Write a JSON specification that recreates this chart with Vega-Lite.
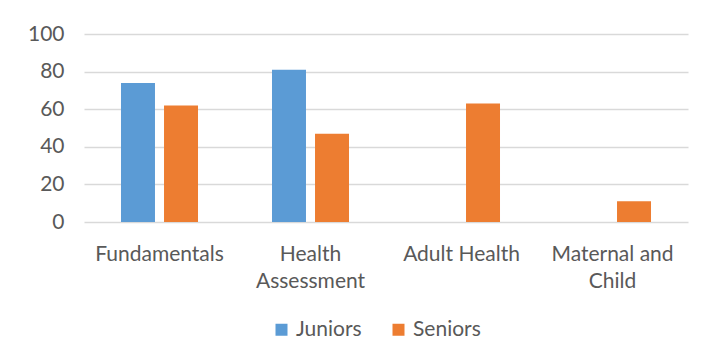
{
  "$schema": "https://vega.github.io/schema/vega-lite/v6.json",
  "autosize": "none",
  "width": 604,
  "height": 188,
  "padding": {"left": 84, "top": 34, "right": 29, "bottom": 140},
  "background": "white",
  "data": {
    "values": [
      {"course": "Fundamentals", "group": "Juniors", "value": 74},
      {"course": "Fundamentals", "group": "Seniors", "value": 62},
      {"course": "Health Assessment", "group": "Juniors", "value": 81},
      {"course": "Health Assessment", "group": "Seniors", "value": 47},
      {"course": "Adult Health", "group": "Juniors", "value": 0},
      {"course": "Adult Health", "group": "Seniors", "value": 63},
      {"course": "Maternal and Child", "group": "Juniors", "value": 0},
      {"course": "Maternal and Child", "group": "Seniors", "value": 11}
    ]
  },
  "config": {
    "view": {"stroke": null},
    "font": "Lato",
    "axis": {"labelFont": "Lato", "labelFontSize": 21, "labelColor": "#595959"},
    "legend": {"labelFont": "Lato", "labelFontSize": 21, "labelColor": "#595959"}
  },
  "mark": {"type": "bar"},
  "encoding": {
    "x": {
      "field": "course",
      "type": "nominal",
      "sort": ["Fundamentals", "Health Assessment", "Adult Health", "Maternal and Child"],
      "scale": {"paddingInner": 0.49, "paddingOuter": 0.245},
      "axis": {
        "title": null,
        "labelAngle": 0,
        "domain": false,
        "ticks": false,
        "labelPadding": 21,
        "labelLineHeight": 27,
        "labelExpr": "datum.label == 'Health Assessment' ? ['Health', 'Assessment'] : datum.label == 'Maternal and Child' ? ['Maternal and', 'Child'] : datum.label"
      }
    },
    "xOffset": {
      "field": "group",
      "type": "nominal",
      "scale": {"paddingInner": 0.21, "paddingOuter": 0}
    },
    "y": {
      "field": "value",
      "type": "quantitative",
      "scale": {"domain": [0, 100], "nice": false},
      "axis": {
        "title": null,
        "values": [0, 20, 40, 60, 80, 100],
        "domain": false,
        "ticks": false,
        "labelPadding": 20,
        "gridColor": "#d9d9d9",
        "gridWidth": 1.5
      }
    },
    "color": {
      "field": "group",
      "type": "nominal",
      "scale": {"domain": ["Juniors", "Seniors"], "range": ["#5B9BD5", "#ED7D31"]},
      "legend": {
        "title": null,
        "orient": "none",
        "direction": "horizontal",
        "legendX": 187,
        "legendY": 285,
        "symbolType": "square",
        "symbolSize": 144,
        "symbolStrokeWidth": 0,
        "symbolOpacity": 1,
        "labelOffset": 4,
        "columnPadding": 26
      }
    }
  }
}
